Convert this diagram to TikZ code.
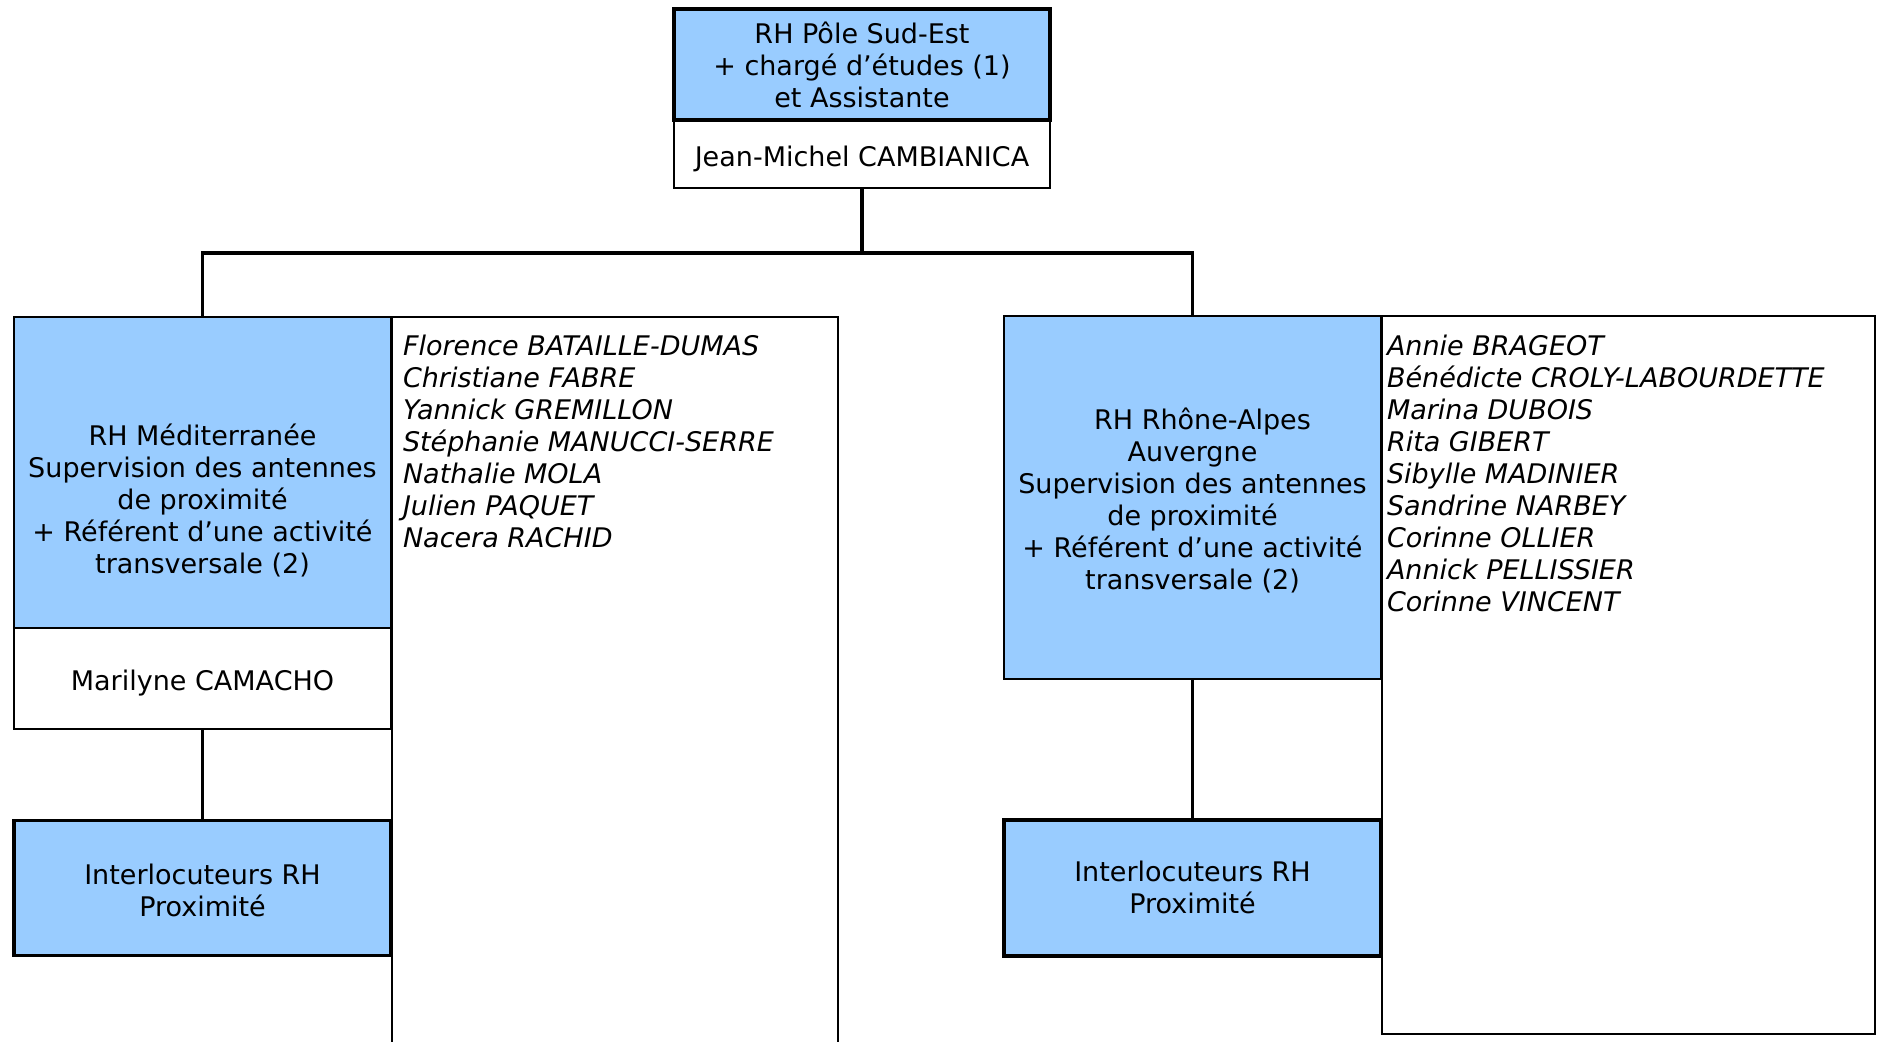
\documentclass[tikz,border=0pt]{standalone}
\usepackage{fontspec}
\setmainfont{DejaVu Sans}
\definecolor{boxblue}{RGB}{153,204,255}
\begin{document}
\begin{tikzpicture}[x=0.5pt,y=-0.5pt,
  every node/.style={font=\fontsize{13.5}{16}\selectfont, inner sep=0pt, outer sep=0pt},
  bluethin/.style={draw=black, line width=0.75pt, fill=boxblue, rectangle, minimum width=188.5pt},
  bluethick/.style={draw=black, line width=1.75pt, fill=boxblue, rectangle, minimum width=188.5pt},
  whitebox/.style={draw=black, line width=0.75pt, fill=white, rectangle, minimum width=188.5pt},
  listbox/.style={draw=black, line width=0.75pt, fill=white, rectangle, anchor=north west},
  conn/.style={draw=black, line width=1.6pt},
  txt/.style={align=center},
  basetxt/.style={anchor=base},
  person/.style={anchor=base west, font=\fontsize{13.5}{16}\selectfont\itshape}]
\clip (0,0) rectangle (1879,1041);
\fill[white] (0,0) rectangle (1879,1041);

% list boxes
\node[listbox, minimum width=223pt, minimum height=400pt] (llist) at (392,317) {};
\node[listbox, minimum width=246.5pt, minimum height=359pt] (rlist) at (1382,316) {};

% named junction
\coordinate (jn) at (862,253);

% boxes
\node[bluethick, minimum width=188pt, minimum height=55.5pt] (top) at (862,64.4) {};
\node[whitebox, minimum width=188pt, minimum height=34pt] (topw) at (862,154) {};
\node[bluethin, minimum height=155.5pt] (lblue) at (202.5,472.5) {};
\node[whitebox, minimum height=50.5pt] (lwhite) at (202.5,678.5) {};
\node[bluethick, minimum height=67.5pt] (linter) at (202.5,888) {};
\node[bluethin, minimum height=181.5pt] (rblue) at (1192.5,497.5) {};
\node[bluethick, minimum height=68pt] (rinter) at (1192.5,888) {};

% connectors
\draw[conn] (topw.south) -- (jn) -| (lblue.north);
\draw[conn] (jn) -| (rblue.north);
\draw[conn] (lwhite.south) -- (linter.north);
\draw[conn] (rblue.south) -- (rinter.north);

% redraw top border over connector end
\draw[line width=1.75pt] (top.south west) rectangle (top.north east);

% texts
\node[txt] (toptext) at (top.center) {RH Pôle Sud-Est\\+ chargé d’études (1)\\et Assistante};
\node[basetxt] (topwtext) at (862,166) {Jean-Michel CAMBIANICA};
\node[txt] (ltext) at (202.5,500) {RH Méditerranée\\Supervision des antennes\\de proximité\\+ Référent d’une activité\\transversale (2)};
\node[basetxt] (lwtext) at (202.5,690) {Marilyne CAMACHO};
\node[txt] (lintertext) at (202.5,890) {Interlocuteurs RH\\Proximité};
\node[txt] (rtext) at (1192.5,500) {\hspace*{10pt}RH Rhône-Alpes\\Auvergne\\Supervision des antennes\\de proximité\\+ Référent d’une activité\\transversale (2)};
\node[txt] (rintertext) at (1192.5,887) {Interlocuteurs RH\\Proximité};

\foreach \t [count=\i] in {Florence BATAILLE-DUMAS, Christiane FABRE, Yannick GREMILLON, Stéphanie MANUCCI-SERRE, Nathalie MOLA, Julien PAQUET, Nacera RACHID}
  \node[person] (lm\i) at ({403},{322.9+32.1*\i}) {\t};
\foreach \t [count=\i] in {Annie BRAGEOT, Bénédicte CROLY-LABOURDETTE, Marina DUBOIS, Rita GIBERT, Sibylle MADINIER, Sandrine NARBEY, Corinne OLLIER, Annick PELLISSIER, Corinne VINCENT}
  \node[person] (ra\i) at ({1387},{322.9+32.1*\i}) {\t};
\end{tikzpicture}
\end{document}
